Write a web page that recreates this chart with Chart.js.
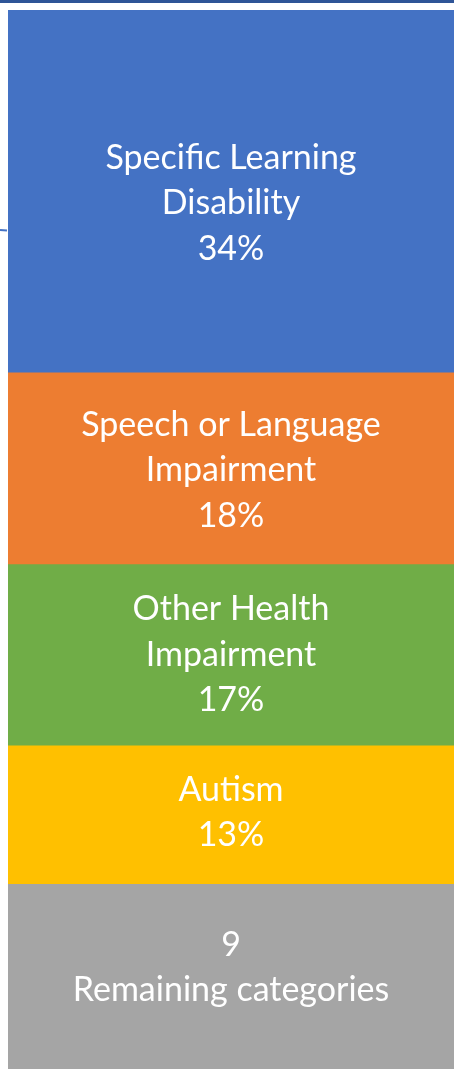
<!DOCTYPE html>
<html>
<head>
<meta charset="utf-8">
<script src="https://cdn.jsdelivr.net/npm/chart.js@4/dist/chart.umd.min.js"></script>
<style>
  html, body { margin: 0; padding: 0; background: #ffffff; }
  #wrap { position: relative; width: 454px; height: 1069px; }
</style>
</head>
<body>
<div id="wrap"><canvas id="c" width="454" height="1069"></canvas></div>
<script>
// ---- data ----
const categories = ['Students with disabilities'];
const seriesNames = ['Specific Learning Disability', 'Speech or Language Impairment', 'Other Health Impairment', 'Autism', 'Remaining categories'];
const seriesValues = [34, 18, 17, 13, 18];
const labelLines = [
  ['Specific Learning', 'Disability', '34%'],
  ['Speech or Language', 'Impairment', '18%'],
  ['Other Health', 'Impairment', '17%'],
  ['Autism', '13%'],
  ['9', 'Remaining categories']
];
const seriesColors = ['#4472C4', '#ED7D31', '#70AD47', '#FFC000', '#A5A5A5'];

const datasets = seriesNames.map((name, i) => ({
  label: name,
  data: [seriesValues[i]],
  backgroundColor: seriesColors[i],
  borderWidth: 0,
  barPercentage: 1,
  categoryPercentage: 1
}));

const FONT = '34px Lato';
const LINE_H = 45.5;
const labelShift = [-12, -2, 0, 2, 12];

const labelPlugin = {
  id: 'stackLabels',
  afterDatasetsDraw(chart) {
    const ctx = chart.ctx;
    const area = chart.chartArea;
    ctx.save();
    ctx.font = FONT;
    ctx.fillStyle = '#ffffff';
    ctx.textAlign = 'center';
    ctx.textBaseline = 'middle';
    chart.data.datasets.forEach((ds, i) => {
      const el = chart.getDatasetMeta(i).data[0];
      const p = el.getProps(['x', 'y', 'base'], true);
      const cx = (area.left + area.right) / 2;
      const cy = (p.y + p.base) / 2 - labelShift[i];
      const lines = labelLines[i];
      const start = cy - (lines.length - 1) * LINE_H / 2;
      lines.forEach((t, k) => ctx.fillText(t, cx, start + k * LINE_H));
    });
    ctx.restore();
  }
};

const decorPlugin = {
  id: 'decor',
  beforeDraw(chart) {
    const ctx = chart.ctx;
    ctx.save();
    ctx.fillStyle = '#ffffff';
    ctx.fillRect(0, 0, chart.width, chart.height);
    ctx.fillStyle = '#2F5597';
    ctx.fillRect(0, 0, chart.width, 3);
    ctx.strokeStyle = '#4472C4';
    ctx.lineWidth = 2;
    ctx.beginPath();
    ctx.moveTo(0, 230);
    ctx.lineTo(7, 230.5);
    ctx.stroke();
    ctx.restore();
  }
};

new Chart(document.getElementById('c'), {
  type: 'bar',
  data: { labels: categories, datasets },
  options: {
    responsive: false,
    animation: false,
    maintainAspectRatio: false,
    layout: { padding: { left: 8, top: 10, right: 0, bottom: 0 } },
    plugins: { legend: { display: false }, tooltip: { enabled: false } },
    scales: {
      x: { stacked: true, display: false },
      y: { stacked: true, display: false, reverse: true, min: 0, max: 99.4 }
    }
  },
  plugins: [decorPlugin, labelPlugin]
});
</script>
</body>
</html>
